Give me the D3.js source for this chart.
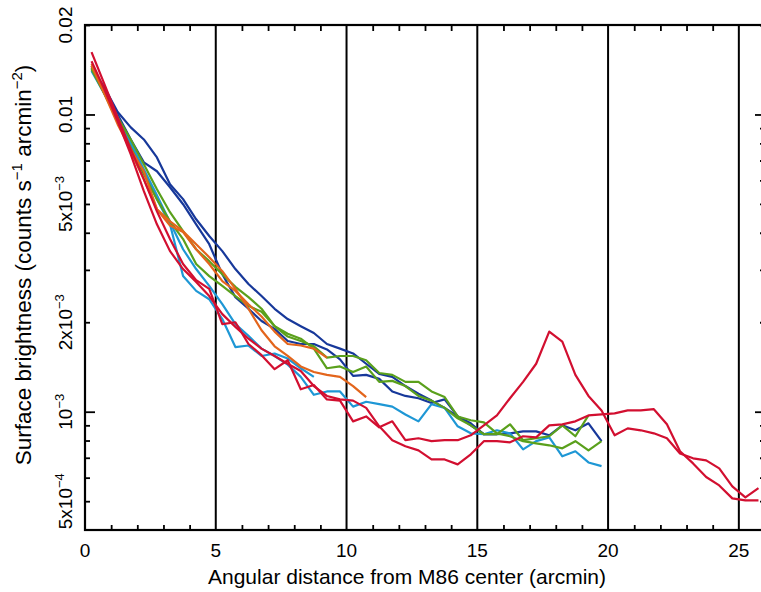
<!DOCTYPE html>
<html><head><meta charset="utf-8">
<script src="https://cdn.jsdelivr.net/npm/d3@7"></script>
<style>
body{margin:0;background:#fff}
svg{display:block}
text{font-family:"Liberation Sans",Arial,Helvetica,sans-serif;fill:#000}
</style>
</head><body><svg id="c" width="761" height="592"></svg>
<script>
// Radial bins (arcmin)
const radius = [0.25,0.75,1.25,1.75,2.25,2.75,3.25,3.75,4.25,4.75,5.25,5.75,6.25,6.75,7.25,7.75,8.25,8.75,9.25,9.75,10.25,10.75,11.25,11.75,12.25,12.75,13.25,13.75,14.25,14.75,15.25,15.75,16.25,16.75,17.25,17.75,18.25,18.75,19.25,19.75,20.25,20.75,21.25,21.75,22.25,22.75,23.25,23.75,24.25,24.75,25.25,25.75];

// Surface brightness profiles (counts s^-1 arcmin^-2)
const darkBlueA = [0.0144,0.0123,0.0102,0.00905,0.00824,0.00717,0.00582,0.00519,0.00444,0.00390,0.00347,0.00302,0.00269,0.00245,0.00222,0.00205,0.00194,0.00184,0.00169,0.00163,0.00157,0.00145,0.00134,0.00131,0.00122,0.00115,0.00109,0.00103,0.000964,0.000914,0.000840,0.000840,0.000846,0.000859,0.000859,0.000833,0.000900,0.000866,0.000914,0.000796];
const darkBlueB = [0.0146,0.0121,0.0100,0.00824,0.00690,0.00644,0.00569,0.00499,0.00427,0.00366,0.00290,0.00243,0.00222,0.00202,0.00190,0.00173,0.00169,0.00169,0.00162,0.00150,0.00132,0.00133,0.00129,0.00117,0.00113,0.00111,0.00107,0.00110,0.000964,0.000900,0.000840,0.000840];
const greenA = [0.0144,0.0119,0.00978,0.00824,0.00680,0.00560,0.00469,0.00405,0.00352,0.00321,0.00290,0.00263,0.00243,0.00222,0.00194,0.00179,0.00173,0.00166,0.00152,0.00154,0.00154,0.00149,0.00135,0.00133,0.00126,0.00126,0.00117,0.00112,0.000964,0.000936,0.000921,0.000846,0.000827,0.000796,0.000783,0.000771,0.000753,0.000796,0.000741,0.000796];
const greenB = [0.0142,0.0117,0.00948,0.00775,0.00629,0.00519,0.00437,0.00381,0.00314,0.00286,0.00265,0.00245,0.00227,0.00217,0.00194,0.00183,0.00176,0.00163,0.00140,0.00142,0.00136,0.00142,0.00126,0.00127,0.00122,0.00113,0.00109,0.00103,0.000950,0.000900,0.000840,0.000840,0.000907,0.000802,0.000814,0.000827,0.000900,0.000827,0.000972];
const lightBlueA = [0.0140,0.0117,0.00962,0.00793,0.00644,0.00519,0.00427,0.00286,0.00255,0.00239,0.00205,0.00165,0.00167,0.00154,0.00157,0.00151,0.00140,0.00131];
const lightBlueB = [0.0142,0.0119,0.00978,0.00805,0.00654,0.00535,0.00434,0.00352,0.00302,0.00265,0.00230,0.00197,0.00180,0.00163,0.00154,0.00144,0.00131,0.00114,0.00117,0.00117,0.00104,0.00108,0.00106,0.00104,0.000979,0.000928,0.00106,0.00103,0.000893,0.000846,0.000840,0.000866,0.000846,0.000747,0.000796,0.000820,0.000708,0.000736,0.000675,0.000656];
const orangeA = [0.0146,0.0117,0.00926,0.00763,0.00644,0.00480,0.00423,0.00402,0.00352,0.00314,0.00275,0.00255,0.00230,0.00209,0.00186,0.00169,0.00167,0.00163,0.00152];
const orangeB = [0.0148,0.0119,0.00948,0.00751,0.00605,0.00480,0.00437,0.00405,0.00366,0.00331,0.00297,0.00259,0.00222,0.00188,0.00166,0.00154,0.00142,0.00136,0.00133,0.00131,0.00122,0.00112];
const redA = [0.0162,0.0126,0.00978,0.00763,0.00605,0.00472,0.00381,0.00314,0.00277,0.00259,0.00197,0.00200,0.00169,0.00155,0.00139,0.00149,0.00119,0.00123,0.00110,0.00109,0.000928,0.000964,0.000886,0.000928,0.000802,0.000814,0.000796,0.000802,0.000802,0.000833,0.000900,0.000972,0.00111,0.00126,0.00145,0.00186,0.00172,0.00133,0.00113,0.00101,0.000833,0.000879,0.000866,0.000846,0.000814,0.000724,0.000697,0.000686,0.000645,0.000561,0.000515,0.000553];
const redB = [0.0151,0.0121,0.00948,0.00734,0.00552,0.00427,0.00347,0.00302,0.00273,0.00245,0.00213,0.00193,0.00176,0.00163,0.00154,0.00145,0.00137,0.00122,0.00113,0.00110,0.00109,0.00103,0.000893,0.000802,0.000765,0.000741,0.000691,0.000691,0.000665,0.000719,0.000796,0.000796,0.000789,0.000827,0.000820,0.000900,0.000907,0.000928,0.000972,0.000979,0.000987,0.00101,0.00101,0.00102,0.000907,0.000736,0.000670,0.000603,0.000565,0.000511,0.000503,0.000503];

// Axis ticks / labels
const xLabelTicks = [0,5,10,15,20,25];
const xMinorTicks = [1,2,3,4,6,7,8,9,11,12,13,14,16,17,18,19,21,22,23,24,26];
const yMajorTicks = [0.001,0.01];
const yMinorTicks = [0.0005,0.0006,0.0007,0.0008,0.0009,0.002,0.003,0.004,0.005,0.006,0.007,0.008,0.009,0.02];
const yLabels = [
  {v:0.02, base:"0.02", sup:""},
  {v:0.01, base:"0.01", sup:""},
  {v:0.005, base:"5x10", sup:"\u22123"},
  {v:0.002, base:"2x10", sup:"\u22123"},
  {v:0.001, base:"10", sup:"\u22123"},
  {v:0.0005, base:"5x10", sup:"\u22124"}
];

// Styling (kept apart from data)
const series = [
  {values: darkBlueA, color:"#17389a"},
  {values: darkBlueB, color:"#17389a"},
  {values: lightBlueA, color:"#1e97d5"},
  {values: lightBlueB, color:"#1e97d5"},
  {values: greenA, color:"#5aa01c"},
  {values: greenB, color:"#5aa01c"},
  {values: orangeA, color:"#e3651c"},
  {values: orangeB, color:"#e3651c"},
  {values: redA, color:"#d20f30"},
  {values: redB, color:"#d20f30"}
];

const L = 85, R = 765, T = 25, B = 530;
const x = d3.scaleLinear().domain([0,26]).range([L,R]);
const y = d3.scaleLog().domain([0.0004,0.02]).range([B,T]);

const svg = d3.select("#c");

// vertical reference lines
svg.append("g").selectAll("line").data(xLabelTicks.filter(d=>d>0)).join("line")
  .attr("x1",d=>x(d)).attr("x2",d=>x(d)).attr("y1",T).attr("y2",B)
  .attr("stroke","#000").attr("stroke-width",2);

// profiles
const line = d3.line().x(d=>x(d[0])).y(d=>y(d[1]));
svg.append("g").selectAll("path").data(series).join("path")
  .attr("d", s => line(s.values.map((v,i)=>[radius[i], v])))
  .attr("fill","none").attr("stroke", s=>s.color)
  .attr("stroke-width",2.2).attr("stroke-linejoin","round");

// axes (ticks inward)
function styleAxis(g){ g.select(".domain").remove(); g.selectAll("text").remove(); g.selectAll("line").attr("stroke","#000").attr("stroke-width",1.8); }
svg.append("g").attr("transform",`translate(0,${B})`)
  .call(d3.axisBottom(x).tickValues(xMinorTicks).tickSize(-5)).call(styleAxis);
svg.append("g").attr("transform",`translate(0,${T})`)
  .call(d3.axisTop(x).tickValues(xMinorTicks).tickSize(-6)).call(styleAxis);
svg.append("g").attr("transform",`translate(${L},0)`)
  .call(d3.axisLeft(y).tickValues(yMinorTicks).tickSize(-5)).call(styleAxis);
svg.append("g").attr("transform",`translate(${L},0)`)
  .call(d3.axisLeft(y).tickValues(yMajorTicks).tickSize(-10)).call(styleAxis);
svg.append("g").attr("transform",`translate(${R},0)`)
  .call(d3.axisRight(y).tickValues(yMinorTicks).tickSize(-5)).call(styleAxis);
svg.append("g").attr("transform",`translate(${R},0)`)
  .call(d3.axisRight(y).tickValues(yMajorTicks).tickSize(-10)).call(styleAxis);

// frame
svg.append("rect").attr("x",L).attr("y",T).attr("width",R-L).attr("height",B-T)
  .attr("fill","none").attr("stroke","#000").attr("stroke-width",2.2);

// x tick labels
svg.append("g").selectAll("text").data(xLabelTicks).join("text")
  .attr("x",d=>x(d)).attr("y",557).attr("text-anchor","middle")
  .attr("font-size",19).text(d=>d);

// y tick labels (rotated)
const yl = svg.append("g").selectAll("text").data(yLabels).join("text")
  .attr("transform",d=>`translate(72,${y(d.v)}) rotate(-90)`)
  .attr("text-anchor","middle").attr("font-size",19);
yl.append("tspan").text(d=>d.base);
yl.append("tspan").attr("dy",-8).attr("font-size",13).text(d=>d.sup);

// axis titles
svg.append("text").attr("x",407).attr("y",584).attr("text-anchor","middle")
  .attr("font-size",21).text("Angular distance from M86 center (arcmin)");
const yt = svg.append("text").attr("transform","translate(31,265) rotate(-90)")
  .attr("text-anchor","middle").attr("font-size",22.5);
yt.append("tspan").text("Surface brightness (counts s");
yt.append("tspan").attr("dy",-9).attr("font-size",15).text("\u22121");
yt.append("tspan").attr("dy",9).text(" arcmin");
yt.append("tspan").attr("dy",-9).attr("font-size",15).text("\u22122");
yt.append("tspan").attr("dy",9).text(")");
</script></body></html>
